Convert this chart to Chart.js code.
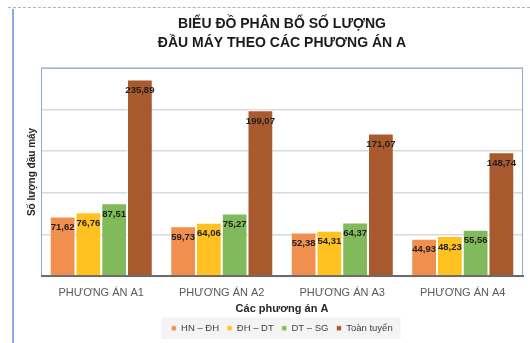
<!DOCTYPE html>
<html>
<head>
<meta charset="utf-8">
<script src="https://cdn.jsdelivr.net/npm/chart.js@4.4.1/dist/chart.umd.min.js"></script>
<style>
  html, body { margin: 0; padding: 0; background: #fff; }
  #wrap { position: relative; width: 530px; height: 343px; }
  #wrap canvas { position: absolute; left: 0; top: 0; }
  .topline { position: absolute; left: 8px; right: 0; top: 7px; border-top: 1px dashed #b4b4b4; }
  .leftline { position: absolute; left: 12px; top: 9px; bottom: 0; border-left: 2px solid #8eaadc; }
</style>
</head>
<body>
<div id="wrap">
  <canvas id="chart" width="530" height="343"></canvas>
  <div class="topline"></div>
  <div class="leftline"></div>
</div>
<script>
const categories = ['PHƯƠNG ÁN A1', 'PHƯƠNG ÁN A2', 'PHƯƠNG ÁN A3', 'PHƯƠNG ÁN A4'];
const seriesNames = ['HN – ĐH', 'ĐH – DT', 'DT – SG', 'Toàn tuyển'];
const hnDh = [71.62, 59.73, 52.38, 44.93];
const dhDt = [76.76, 64.06, 54.31, 48.23];
const dtSg = [87.51, 75.27, 64.37, 55.56];
const toanTuyen = [235.89, 199.07, 171.07, 148.74];
const colors = ['#f08f4e', '#ffc220', '#80ba5a', '#a8592d'];

const FONT = "'Liberation Sans', Arial, sans-serif";

// plot frame + legend background
const framePlugin = {
  id: 'frame',
  beforeDraw(chart) {
    const lg = chart.legend;
    if (!lg || !lg.legendHitBoxes || !lg.legendHitBoxes.length) return;
    const boxes = lg.legendHitBoxes;
    let l = Infinity, r = -Infinity, t = Infinity, b = -Infinity;
    boxes.forEach(h => {
      l = Math.min(l, h.left); r = Math.max(r, h.left + h.width);
      t = Math.min(t, h.top); b = Math.max(b, h.top + h.height);
    });
    const ctx = chart.ctx;
    ctx.save();
    ctx.fillStyle = '#f4f4f4';
    ctx.fillRect(l - 10, t - 6, r - l + 18, b - t + 12);
    ctx.restore();
  },
  beforeDatasetsDraw(chart) {
    const a = chart.chartArea;
    const ctx = chart.ctx;
    ctx.save();
    ctx.strokeStyle = '#8eaadc';
    ctx.lineWidth = 1;
    ctx.strokeRect(a.left + 0.5, a.top + 0.5, a.right - a.left - 1, a.bottom - a.top);
    ctx.strokeStyle = '#6b6b6b';
    ctx.lineWidth = 2;
    ctx.beginPath();
    ctx.moveTo(a.left, a.bottom);
    ctx.lineTo(a.right + 1, a.bottom);
    ctx.stroke();
    ctx.restore();
  }
};

// value labels inside the top of each bar
const valueLabels = {
  id: 'valueLabels',
  afterDatasetsDraw(chart) {
    const ctx = chart.ctx;
    ctx.save();
    ctx.font = 'bold 9.5px ' + FONT;
    ctx.fillStyle = '#1e1e1e';
    ctx.textAlign = 'center';
    ctx.textBaseline = 'middle';
    chart.data.datasets.forEach((ds, i) => {
      chart.getDatasetMeta(i).data.forEach((bar, j) => {
        const txt = ds.data[j].toFixed(2).replace('.', ',');
        ctx.fillText(txt, bar.x, bar.y + 11);
      });
    });
    ctx.restore();
  }
};

const seriesData = [hnDh, dhDt, dtSg, toanTuyen];

new Chart(document.getElementById('chart'), {
  type: 'bar',
  data: {
    labels: categories,
    datasets: seriesNames.map((name, i) => ({
      label: name,
      data: seriesData[i],
      backgroundColor: colors[i],
      borderColor: 'rgba(255,255,255,0.55)',
      borderWidth: 1,
      categoryPercentage: 0.855,
      barPercentage: 1
    }))
  },
  options: {
    responsive: false,
    animation: false,
    layout: { padding: { left: 26, right: 7, top: 0, bottom: 0 } },
    plugins: {
      title: {
        display: true,
        fullSize: false,
        text: ['BIỂU ĐỒ PHÂN BỔ SỐ LƯỢNG', 'ĐẦU MÁY THEO CÁC PHƯƠNG ÁN A'],
        color: '#1a1a1a',
        font: { family: FONT, size: 14, weight: 'bold', lineHeight: 1.35 },
        padding: { top: 15, bottom: 15 }
      },
      legend: {
        position: 'bottom',
        fullSize: false,
        labels: {
          boxWidth: 5,
          boxHeight: 5,
          padding: 8,
          color: '#404040',
          font: { family: FONT, size: 9.5 }
        }
      },
      tooltip: { enabled: false }
    },
    scales: {
      x: {
        grid: { display: false },
        border: { display: false },
        ticks: { color: '#595959', font: { family: FONT, size: 11 }, padding: 2 },
        title: {
          display: true,
          text: 'Các phương án A',
          color: '#262626',
          font: { family: FONT, size: 11, weight: 'bold' },
          padding: { top: 1, bottom: 0 }
        }
      },
      y: {
        min: 0,
        max: 250,
        ticks: { stepSize: 50, display: false },
        grid: { color: '#d9d9d9', lineWidth: 1.5, drawTicks: false },
        border: { display: false },
        title: {
          display: true,
          text: 'Số lượng đầu máy',
          color: '#262626',
          font: { family: FONT, size: 10, weight: 'bold' },
          padding: { top: 0, bottom: 3 }
        }
      }
    }
  },
  plugins: [framePlugin, valueLabels]
});
</script>
</body>
</html>
